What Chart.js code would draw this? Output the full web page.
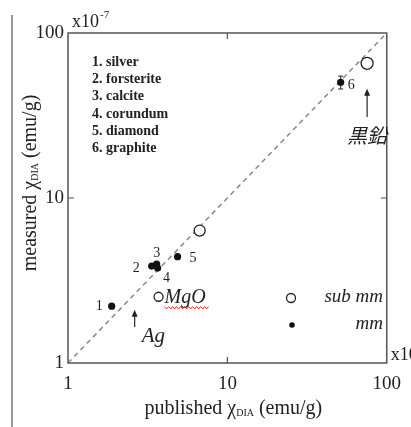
<!DOCTYPE html>
<html>
<head>
<meta charset="utf-8">
<script src="https://cdn.jsdelivr.net/npm/chart.js@4.4.1/dist/chart.umd.min.js"></script>
<style>
  html, body { margin: 0; padding: 0; background: #fff; }
  #chart { display: block; }
</style>
</head>
<body>
<canvas id="chart" width="411" height="427"></canvas>
<script>
// Данные
const tickValues = [1, 10, 100];
const tickLabels = ['1', '10', '100'];

// sub mm (открытые кружки)
const subMmX = [3.7, 6.7, 75.3];
const subMmY = [2.52, 6.35, 65.5];

// mm (закрашенные точки)
const mmNames = ['silver', 'forsterite', 'calcite', 'corundum', 'diamond', 'graphite'];
const mmX = [1.88, 3.35, 3.6, 3.65, 4.87, 51.4];
const mmY = [2.21, 3.87, 3.98, 3.76, 4.41, 50.3];
const mmErr = [0, 0, 0, 0, 0, 4.5];

// стрелки с подписями
const noteText = ['Ag', '黒鉛'];
const noteX = [2.62, 75.3];
const noteFrom = [1.65, 31];
const noteTo = [2.1, 46];

const SERIF = '"Liberation Serif", "Times New Roman", serif';
const INK = '#222';

function toPoints(xs, ys) {
    return xs.map((v, i) => ({ x: v, y: ys[i] }));
}

// подпись вида "published χDIA (emu/g)"
function drawChiTitle(ctx, before, cx, cy, size) {
    const main = size + 'px ' + SERIF;
    const sub = Math.round(size * 0.5) + 'px ' + SERIF;
    ctx.font = main;
    const w1 = ctx.measureText(before + ' χ').width;
    const w3 = ctx.measureText(' (emu/g)').width;
    ctx.font = sub;
    const w2 = ctx.measureText('DIA').width;
    let x = cx - (w1 + w2 + w3) / 2;
    ctx.textAlign = 'left';
    ctx.textBaseline = 'alphabetic';
    ctx.font = main;
    ctx.fillText(before + ' χ', x, cy);
    x += w1;
    ctx.font = sub;
    ctx.fillText('DIA', x, cy + 2);
    x += w2;
    ctx.font = main;
    ctx.fillText(' (emu/g)', x, cy);
}

function drawArrow(ctx, x, y0, y1) {
    ctx.beginPath();
    ctx.moveTo(x, y0);
    ctx.lineTo(x, y1 + 5);
    ctx.stroke();
    ctx.beginPath();
    ctx.moveTo(x, y1);
    ctx.lineTo(x - 3, y1 + 7);
    ctx.lineTo(x + 3, y1 + 7);
    ctx.closePath();
    ctx.fill();
}

const annotate = {
    id: 'annotate',
    beforeDatasetsDraw(chart) {
        const { ctx, scales: { x, y } } = chart;
        // планки погрешностей
        ctx.save();
        ctx.strokeStyle = INK;
        ctx.lineWidth = 1;
        mmErr.forEach((e, i) => {
            if (!e) return;
            const px = x.getPixelForValue(mmX[i]);
            const top = y.getPixelForValue(mmY[i] + e);
            const bot = y.getPixelForValue(mmY[i] - e);
            ctx.beginPath();
            ctx.moveTo(px, top); ctx.lineTo(px, bot);
            ctx.moveTo(px - 2.5, top); ctx.lineTo(px + 2.5, top);
            ctx.moveTo(px - 2.5, bot); ctx.lineTo(px + 2.5, bot);
            ctx.stroke();
        });
        ctx.restore();
    },
    afterDraw(chart) {
        const { ctx, chartArea: a, scales: { x, y } } = chart;
        ctx.save();

        // рамка
        ctx.strokeStyle = '#555';
        ctx.lineWidth = 1.5;
        ctx.strokeRect(a.left, a.top, a.right - a.left, a.bottom - a.top);

        // внутренние засечки на 10
        ctx.lineWidth = 1.2;
        const tx = x.getPixelForValue(10);
        const ty = y.getPixelForValue(10);
        ctx.beginPath();
        ctx.moveTo(tx, a.bottom); ctx.lineTo(tx, a.bottom - 6);
        ctx.moveTo(tx, a.top); ctx.lineTo(tx, a.top + 6);
        ctx.moveTo(a.left, ty); ctx.lineTo(a.left + 6, ty);
        ctx.moveTo(a.right, ty); ctx.lineTo(a.right - 6, ty);
        ctx.stroke();

        // линия слева
        ctx.strokeStyle = '#777';
        ctx.lineWidth = 1.5;
        ctx.beginPath();
        ctx.moveTo(12, 15); ctx.lineTo(12, 427);
        ctx.stroke();

        ctx.fillStyle = INK;
        ctx.strokeStyle = INK;

        // множители x10^-7
        ctx.textBaseline = 'alphabetic';
        ctx.textAlign = 'left';
        ctx.font = '18px ' + SERIF;
        ctx.fillText('x10', 72, 27);
        ctx.font = '11px ' + SERIF;
        ctx.fillText('-7', 100, 18);
        ctx.font = '18px ' + SERIF;
        ctx.fillText('x10', a.right + 4, a.bottom - 3);

        // подписи осей
        drawChiTitle(ctx, 'published', (a.left + a.right) / 2 + 6, 414, 20);
        ctx.save();
        ctx.translate(36, 183);
        ctx.rotate(-Math.PI / 2);
        drawChiTitle(ctx, 'measured', 0, 0, 20);
        ctx.restore();

        // список образцов
        ctx.font = 'bold 14px ' + SERIF;
        ctx.textBaseline = 'middle';
        mmNames.forEach((n, i) => {
            ctx.fillText((i + 1) + '. ' + n, 92, 62 + i * 17.3);
        });

        // номера у точек
        const offs = [[-9, 0, 'right'], [-12, 2, 'right'], [0, -11, 'center'],
                      [9, 10, 'center'], [12, 2, 'left'], [7, 3, 'left']];
        ctx.font = '14px ' + SERIF;
        mmX.forEach((v, i) => {
            const px = x.getPixelForValue(v);
            const py = y.getPixelForValue(mmY[i]);
            ctx.textAlign = offs[i][2];
            ctx.fillText(String(i + 1), px + offs[i][0], py + offs[i][1]);
        });

        // стрелки
        ctx.lineWidth = 1.2;
        noteX.forEach((v, i) => {
            const px = x.getPixelForValue(v);
            drawArrow(ctx, px, y.getPixelForValue(noteFrom[i]), y.getPixelForValue(noteTo[i]));
        });
        ctx.textBaseline = 'middle';
        ctx.textAlign = 'left';
        ctx.font = 'italic 21px ' + SERIF;
        ctx.fillText(noteText[0], x.getPixelForValue(noteX[0]) + 7, y.getPixelForValue(noteFrom[0]) + 9);
        ctx.textAlign = 'center';
        ctx.font = 'italic 20px "Noto Sans CJK JP"';
        ctx.fillText(noteText[1], x.getPixelForValue(noteX[1]), y.getPixelForValue(noteFrom[1]) + 18);

        // MgO
        const mx = x.getPixelForValue(subMmX[0]) + 6;
        const my = y.getPixelForValue(subMmY[0]);
        ctx.textAlign = 'left';
        ctx.font = 'italic 20px ' + SERIF;
        ctx.fillText('MgO', mx, my + 1);
        const mw = ctx.measureText('MgO').width;
        ctx.strokeStyle = '#d33';
        ctx.lineWidth = 1;
        ctx.beginPath();
        for (let k = 0; k <= mw + 4; k += 2) {
            const yy = my + 11 + ((k / 2) % 2 ? 1.2 : -1.2);
            if (k === 0) ctx.moveTo(mx + k, yy); else ctx.lineTo(mx + k, yy);
        }
        ctx.stroke();

        // легенда
        ctx.strokeStyle = INK;
        ctx.fillStyle = '#fff';
        ctx.lineWidth = 1.3;
        ctx.beginPath();
        ctx.arc(291, 298, 4.5, 0, Math.PI * 2);
        ctx.fill();
        ctx.stroke();
        ctx.fillStyle = '#111';
        ctx.beginPath();
        ctx.arc(292, 325, 2.8, 0, Math.PI * 2);
        ctx.fill();
        ctx.fillStyle = INK;
        ctx.font = 'italic 19px ' + SERIF;
        ctx.textAlign = 'right';
        ctx.fillText('sub mm', 383, 297);
        ctx.fillText('mm', 383, 324);

        ctx.restore();
    }
};

const axisFont = { family: SERIF, size: 19 };

new Chart(document.getElementById('chart'), {
    type: 'scatter',
    data: {
        datasets: [
            {
                label: 'sub mm',
                data: toPoints(subMmX, subMmY),
                backgroundColor: '#fff',
                borderColor: INK,
                borderWidth: 1.3,
                pointRadius: [4.5, 5.5, 6],
                pointHoverRadius: [4.5, 5.5, 6]
            },
            {
                label: 'mm',
                data: toPoints(mmX, mmY),
                backgroundColor: '#111',
                borderColor: '#111',
                borderWidth: 0,
                pointRadius: 3.6,
                pointHoverRadius: 3.6
            },
            {
                type: 'line',
                label: 'y = x',
                data: [{ x: 1, y: 1 }, { x: 100, y: 100 }],
                borderColor: '#888',
                borderWidth: 1.5,
                borderDash: [5, 4],
                pointRadius: 0,
                fill: false
            }
        ]
    },
    options: {
        responsive: false,
        animation: false,
        layout: { padding: { left: 0, top: 33, right: 23, bottom: 0 } },
        plugins: {
            legend: { display: false },
            tooltip: { enabled: false }
        },
        scales: {
            x: {
                type: 'logarithmic',
                min: 1,
                max: 100,
                afterBuildTicks: s => { s.ticks = tickValues.map(v => ({ value: v })); },
                afterFit: s => { s.height = 64; },
                ticks: {
                    callback: v => tickLabels[tickValues.indexOf(v)],
                    font: axisFont,
                    color: INK,
                    padding: 10,
                    maxRotation: 0,
                    autoSkip: false
                },
                grid: { display: false, drawTicks: false },
                border: { display: false }
            },
            y: {
                type: 'logarithmic',
                min: 1,
                max: 100,
                afterBuildTicks: s => { s.ticks = tickValues.map(v => ({ value: v })); },
                afterFit: s => { s.width = 68; },
                ticks: {
                    callback: v => tickLabels[tickValues.indexOf(v)],
                    font: axisFont,
                    color: INK,
                    padding: 4,
                    autoSkip: false
                },
                grid: { display: false, drawTicks: false },
                border: { display: false }
            }
        }
    },
    plugins: [annotate]
});
</script>
</body>
</html>
